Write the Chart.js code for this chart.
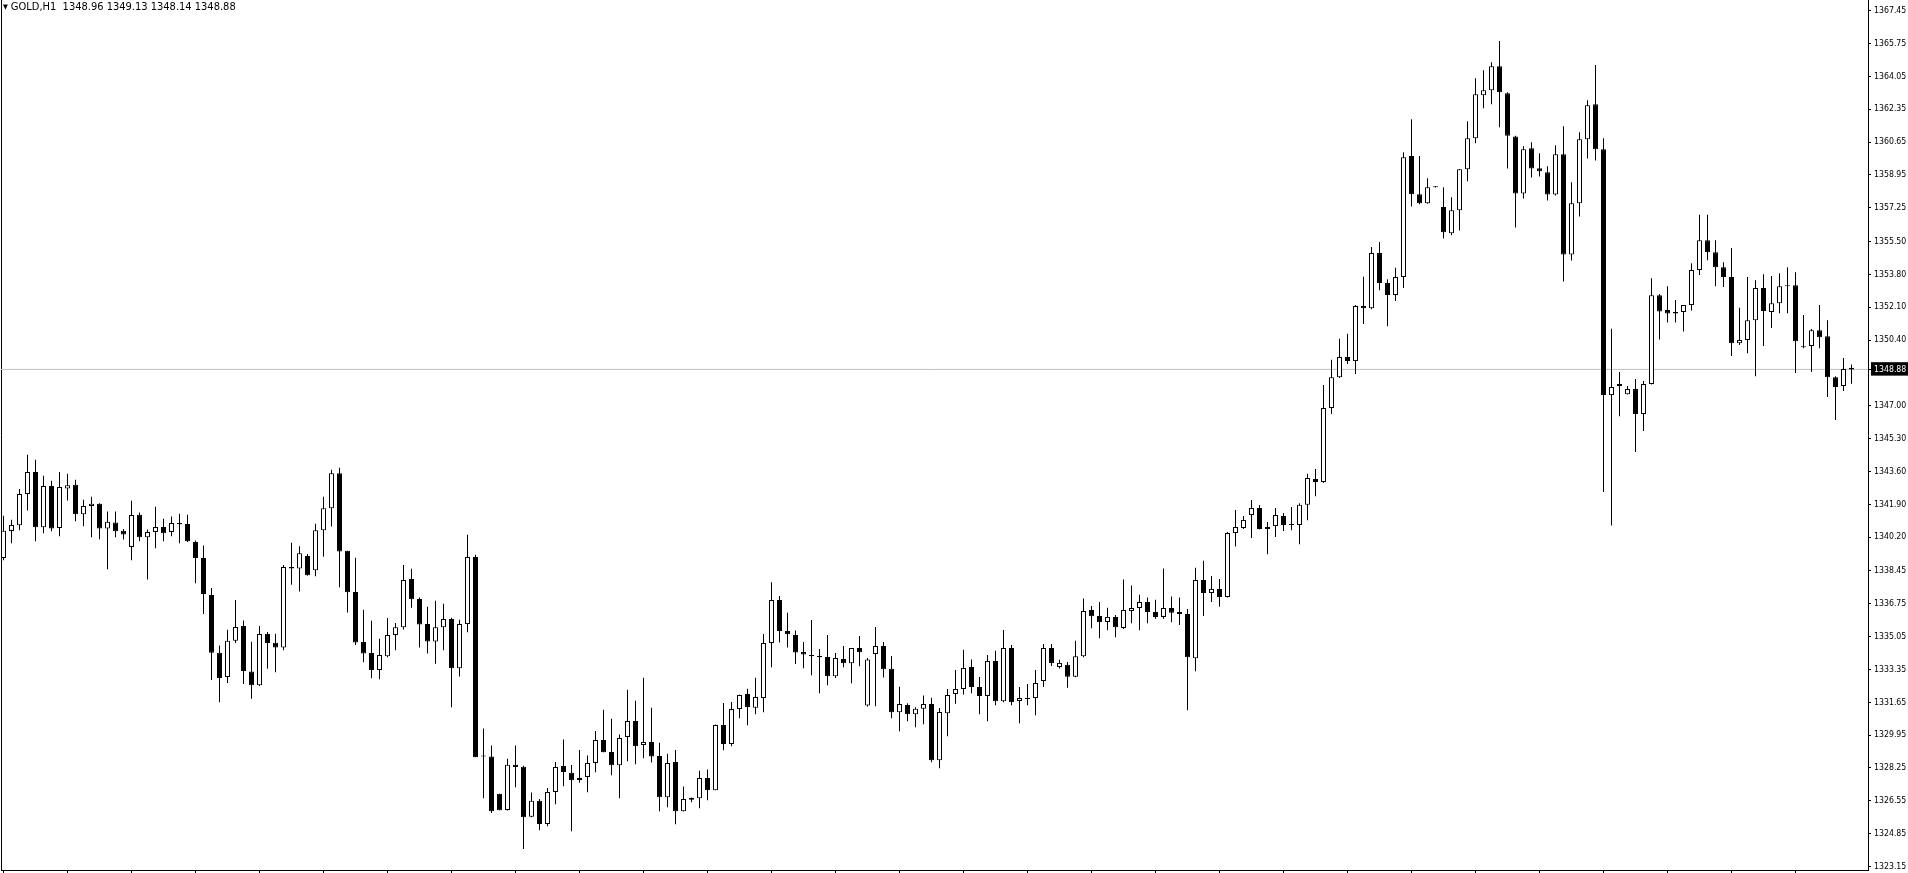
<!DOCTYPE html>
<html>
<head>
<meta charset="utf-8">
<title>GOLD,H1</title>
<script src="https://cdn.jsdelivr.net/npm/chart.js@4.4.1/dist/chart.umd.min.js"></script>
<style>
  html, body { margin: 0; padding: 0; background: #fff; overflow: hidden; }
  #wrap { position: relative; width: 1908px; height: 873px; }
  #chart { display: block; }
  #title {
    position: absolute; left: 3px; top: 0;
    font: 11px 'DejaVu Sans Condensed', 'Liberation Sans Narrow', sans-serif;
    line-height: 13px; white-space: pre; color: #000;
  }
  #title .arrow { font-size: 7px; vertical-align: 1px; margin-right: 3px; }
</style>
</head>
<body>
<div id="wrap">
  <canvas id="chart" width="1908" height="873"></canvas>
  <div id="title"></div>
</div>
<script>
const symbol = 'GOLD,H1';

// hourly bars, oldest first
const opens = [
  1339.12, 1340.52, 1340.81, 1342.43, 1343.57, 1340.71, 1342.84, 1340.67, 1342.72, 1342.91, 1341.38, 1341.81,
  1341.93, 1340.65, 1340.95, 1340.53, 1339.69, 1341.36, 1340.19, 1340.47, 1340.72, 1340.47, 1340.93, 1340.88,
  1339.95, 1339.12, 1337.21, 1334.21, 1332.96, 1334.83, 1335.60, 1333.24, 1332.53, 1335.20, 1334.73, 1334.49,
  1338.65, 1338.58, 1339.22, 1338.49, 1340.56, 1341.70, 1343.51, 1339.49, 1337.36, 1334.77, 1334.20, 1333.32,
  1334.03, 1335.13, 1335.54, 1338.03, 1337.00, 1335.70, 1334.80, 1335.54, 1335.96, 1333.41, 1335.70, 1339.17,
  1328.85, 1328.84, 1326.92, 1326.08, 1328.42, 1328.32, 1325.72, 1326.56, 1325.35, 1327.01, 1328.35, 1328.00,
  1327.63, 1327.79, 1328.51, 1329.70, 1329.08, 1328.39, 1329.86, 1330.68, 1329.44, 1329.60, 1328.87, 1326.73,
  1328.56, 1326.01, 1326.60, 1326.68, 1327.73, 1327.10, 1330.48, 1329.49, 1331.30, 1332.08, 1331.37, 1331.87,
  1334.72, 1336.94, 1335.34, 1335.13, 1334.25, 1334.10, 1334.05, 1333.99, 1333.00, 1333.89, 1333.67, 1334.46,
  1331.48, 1334.15, 1334.56, 1333.39, 1331.13, 1331.51, 1331.03, 1331.31, 1331.56, 1328.65, 1331.08, 1332.08,
  1332.34, 1333.48, 1332.44, 1331.98, 1333.79, 1331.70, 1334.46, 1331.72, 1331.87, 1331.87, 1332.75, 1334.46,
  1333.48, 1333.59, 1332.97, 1334.03, 1336.43, 1336.12, 1335.81, 1336.07, 1335.50, 1336.38, 1336.53, 1336.84,
  1336.33, 1336.07, 1336.53, 1336.33, 1336.22, 1333.93, 1337.98, 1337.31, 1337.52, 1337.10, 1340.41, 1340.67,
  1341.34, 1341.71, 1340.62, 1340.77, 1341.29, 1340.83, 1340.83, 1341.88, 1343.21, 1343.05, 1346.88, 1348.48,
  1349.52, 1349.31, 1352.16, 1352.05, 1354.90, 1353.35, 1352.73, 1353.66, 1359.92, 1357.95, 1357.48, 1358.36,
  1357.28, 1355.93, 1357.12, 1359.24, 1360.85, 1363.07, 1363.33, 1364.57, 1363.17, 1360.93, 1357.98, 1360.33,
  1359.29, 1359.09, 1357.93, 1360.02, 1354.83, 1357.48, 1360.79, 1362.60, 1360.28, 1347.55, 1348.02, 1347.60,
  1347.86, 1346.57, 1348.12, 1352.72, 1351.95, 1351.85, 1351.85, 1352.21, 1354.02, 1355.57, 1354.95, 1354.17,
  1353.66, 1350.24, 1350.40, 1351.43, 1353.09, 1351.85, 1352.31, 1353.24, 1353.24, 1350.05, 1350.09, 1350.91,
  1350.60, 1348.48, 1348.02, 1348.96
];
const highs = [
  1341.30, 1341.10, 1342.69, 1344.46, 1344.21, 1343.38, 1343.12, 1343.57, 1343.48, 1343.17, 1342.14, 1342.29,
  1341.95, 1341.52, 1341.52, 1340.62, 1342.08, 1341.48, 1340.59, 1341.77, 1341.15, 1341.27, 1341.41, 1341.36,
  1340.02, 1339.76, 1337.57, 1334.59, 1335.40, 1336.95, 1335.88, 1334.79, 1335.60, 1335.29, 1335.20, 1338.75,
  1339.91, 1339.73, 1339.32, 1340.89, 1342.29, 1343.68, 1343.79, 1339.50, 1339.13, 1336.44, 1335.87, 1334.94,
  1336.01, 1335.75, 1338.75, 1338.56, 1337.08, 1336.60, 1336.91, 1336.75, 1336.03, 1335.92, 1340.32, 1339.29,
  1330.30, 1329.41, 1326.92, 1328.73, 1329.41, 1328.37, 1326.98, 1326.65, 1327.22, 1328.56, 1329.72, 1328.41,
  1329.18, 1328.89, 1330.16, 1331.27, 1330.80, 1329.98, 1332.30, 1331.73, 1332.92, 1331.37, 1329.56, 1328.99,
  1329.18, 1327.29, 1326.72, 1328.11, 1328.17, 1330.50, 1331.61, 1331.67, 1332.05, 1332.35, 1332.92, 1335.18,
  1337.87, 1337.15, 1336.29, 1335.37, 1334.77, 1335.91, 1334.41, 1335.13, 1334.20, 1334.56, 1334.46, 1335.08,
  1333.94, 1335.55, 1334.77, 1334.05, 1332.46, 1331.60, 1331.39, 1332.00, 1331.89, 1331.36, 1332.34, 1333.32,
  1334.37, 1333.86, 1332.96, 1334.10, 1334.32, 1335.39, 1334.62, 1332.44, 1332.60, 1333.32, 1334.67, 1334.67,
  1333.85, 1333.74, 1334.84, 1337.02, 1336.64, 1336.84, 1336.55, 1336.17, 1338.00, 1337.69, 1337.22, 1337.07,
  1336.96, 1338.57, 1337.12, 1337.07, 1336.48, 1338.62, 1338.98, 1338.19, 1338.03, 1340.46, 1341.60, 1341.29,
  1342.12, 1341.86, 1340.98, 1341.71, 1341.45, 1341.76, 1341.95, 1343.48, 1343.72, 1348.07, 1349.38, 1350.47,
  1350.73, 1352.21, 1353.67, 1355.21, 1355.47, 1353.55, 1354.14, 1360.12, 1361.83, 1359.92, 1358.78, 1358.37,
  1358.31, 1357.79, 1359.25, 1361.73, 1363.95, 1364.36, 1364.78, 1365.88, 1363.23, 1360.98, 1360.43, 1360.64,
  1360.07, 1359.40, 1360.48, 1361.47, 1358.57, 1361.16, 1362.81, 1364.64, 1360.85, 1350.98, 1348.74, 1348.02,
  1348.38, 1348.28, 1353.60, 1352.78, 1353.19, 1352.47, 1352.22, 1354.38, 1356.88, 1356.88, 1355.57, 1354.43,
  1355.16, 1352.07, 1353.66, 1353.50, 1353.81, 1353.71, 1353.86, 1354.17, 1353.91, 1351.69, 1350.97, 1352.21,
  1351.43, 1348.53, 1349.47, 1349.13
];
const lows = [
  1339.00, 1339.88, 1340.55, 1341.58, 1339.98, 1340.40, 1340.50, 1340.24, 1342.10, 1341.02, 1340.76, 1340.19,
  1340.09, 1338.53, 1340.19, 1340.07, 1339.00, 1339.98, 1338.00, 1339.62, 1339.98, 1340.24, 1339.88, 1339.95,
  1337.81, 1336.22, 1332.81, 1331.65, 1332.65, 1334.72, 1332.60, 1331.83, 1332.50, 1333.39, 1333.20, 1334.34,
  1337.73, 1337.39, 1338.20, 1338.17, 1339.18, 1340.75, 1337.60, 1336.30, 1334.61, 1333.72, 1332.89, 1332.84,
  1333.98, 1334.34, 1335.42, 1336.55, 1334.48, 1334.17, 1333.65, 1334.34, 1331.39, 1332.99, 1335.27, 1328.80,
  1326.68, 1325.92, 1326.06, 1326.05, 1327.25, 1324.06, 1325.70, 1325.03, 1325.23, 1326.37, 1327.30, 1324.98,
  1327.48, 1326.99, 1328.03, 1329.06, 1327.87, 1326.68, 1328.60, 1328.44, 1328.75, 1328.54, 1326.01, 1326.22,
  1325.34, 1326.00, 1326.48, 1326.17, 1326.58, 1327.10, 1329.17, 1329.37, 1330.82, 1330.46, 1331.03, 1331.13,
  1333.46, 1334.75, 1334.49, 1333.63, 1333.41, 1333.05, 1332.12, 1332.53, 1332.91, 1333.46, 1332.63, 1333.51,
  1331.43, 1331.44, 1332.94, 1330.82, 1330.15, 1330.67, 1330.36, 1330.51, 1328.55, 1328.24, 1329.89, 1331.58,
  1332.06, 1332.12, 1331.03, 1330.67, 1331.50, 1331.65, 1331.50, 1330.56, 1331.50, 1330.98, 1332.44, 1333.53,
  1333.40, 1332.40, 1332.95, 1333.98, 1335.48, 1334.96, 1335.38, 1335.02, 1335.45, 1335.74, 1335.38, 1335.74,
  1335.97, 1335.97, 1335.79, 1335.65, 1331.24, 1333.26, 1336.12, 1336.84, 1336.59, 1337.08, 1339.72, 1340.62,
  1340.15, 1340.60, 1339.31, 1340.21, 1340.52, 1340.55, 1339.83, 1341.07, 1342.31, 1343.00, 1346.57, 1348.43,
  1349.16, 1348.64, 1351.23, 1352.00, 1352.98, 1351.12, 1352.42, 1353.09, 1357.31, 1357.43, 1357.45, 1358.30,
  1355.66, 1355.83, 1356.07, 1358.62, 1360.59, 1362.40, 1362.61, 1361.42, 1359.28, 1356.23, 1357.73, 1358.81,
  1358.86, 1357.62, 1357.88, 1353.43, 1354.52, 1356.79, 1359.79, 1359.69, 1342.54, 1340.80, 1346.45, 1347.58,
  1344.60, 1345.69, 1348.10, 1350.43, 1351.31, 1351.31, 1350.84, 1351.93, 1353.76, 1354.53, 1353.19, 1353.14,
  1349.57, 1350.14, 1349.72, 1348.53, 1350.09, 1351.02, 1351.79, 1351.79, 1348.69, 1349.98, 1348.74, 1349.98,
  1347.45, 1346.26, 1347.76, 1348.14
];
const closes = [
  1340.53, 1340.83, 1342.43, 1343.57, 1340.71, 1342.84, 1340.64, 1342.79, 1342.89, 1341.38, 1341.81, 1341.93,
  1340.65, 1341.00, 1340.50, 1340.34, 1341.34, 1340.19, 1340.47, 1340.72, 1340.40, 1340.93, 1340.86, 1339.98,
  1339.12, 1337.26, 1334.21, 1332.91, 1334.83, 1335.55, 1333.27, 1332.53, 1335.19, 1334.72, 1334.49, 1338.65,
  1338.58, 1339.37, 1338.22, 1340.56, 1341.70, 1343.51, 1339.46, 1337.34, 1334.75, 1334.18, 1333.32, 1334.10,
  1335.13, 1335.54, 1337.98, 1336.98, 1335.68, 1334.80, 1335.54, 1335.96, 1333.41, 1335.70, 1339.17, 1328.80,
  1328.90, 1326.01, 1326.06, 1328.42, 1328.30, 1325.70, 1326.56, 1325.35, 1327.01, 1328.30, 1328.04, 1327.61,
  1327.73, 1328.51, 1329.70, 1329.06, 1328.39, 1329.80, 1330.68, 1329.37, 1329.60, 1328.85, 1326.73, 1328.51,
  1326.01, 1326.65, 1326.70, 1327.73, 1327.10, 1330.48, 1329.49, 1331.30, 1332.03, 1331.41, 1331.92, 1334.72,
  1336.94, 1335.34, 1335.17, 1334.23, 1334.13, 1334.03, 1333.98, 1333.00, 1333.94, 1333.67, 1334.46, 1334.24,
  1333.86, 1334.56, 1333.36, 1331.13, 1331.56, 1331.03, 1331.31, 1331.56, 1328.65, 1331.15, 1332.03, 1332.34,
  1333.43, 1332.44, 1331.98, 1333.79, 1331.70, 1334.46, 1331.65, 1331.87, 1331.82, 1332.65, 1334.46, 1333.69,
  1333.69, 1332.97, 1334.03, 1336.38, 1336.10, 1335.79, 1336.07, 1335.53, 1336.43, 1336.53, 1336.84, 1336.33,
  1336.07, 1336.53, 1336.28, 1336.22, 1333.98, 1337.98, 1337.31, 1337.52, 1337.10, 1340.41, 1340.72, 1341.09,
  1341.71, 1340.62, 1340.72, 1341.34, 1340.83, 1340.85, 1341.88, 1343.26, 1343.05, 1346.88, 1348.48, 1349.52,
  1349.31, 1352.16, 1352.05, 1354.90, 1353.35, 1352.73, 1353.66, 1359.86, 1357.95, 1357.48, 1358.31, 1358.31,
  1355.98, 1357.12, 1359.24, 1360.85, 1363.12, 1363.33, 1364.57, 1363.23, 1360.98, 1357.98, 1360.28, 1359.28,
  1359.14, 1357.93, 1360.02, 1354.83, 1357.48, 1360.79, 1362.55, 1360.28, 1347.55, 1347.97, 1348.12, 1347.86,
  1346.57, 1348.12, 1352.72, 1351.88, 1351.78, 1351.78, 1352.21, 1354.02, 1355.57, 1354.95, 1354.17, 1353.66,
  1350.24, 1350.40, 1351.43, 1353.09, 1351.90, 1352.31, 1353.19, 1353.19, 1350.34, 1350.03, 1350.91, 1350.55,
  1348.48, 1347.97, 1348.90, 1348.88
];

// price scale labels as printed on the right axis
const priceTicks = [
  1367.45, 1365.75, 1364.05, 1362.35, 1360.65, 1358.95, 1357.25, 1355.50, 1353.80, 1352.10, 1350.40,
  1347.00, 1345.30, 1343.60, 1341.90, 1340.20, 1338.45, 1336.75, 1335.05, 1333.35, 1331.65, 1329.95,
  1328.25, 1326.55, 1324.85, 1323.15
];
const timeTickEvery = 8; // one time mark every 8 bars

const bars = opens.map((_, i) => i);
const last = bars.length - 1;
const lastClose = closes[last];

// visible window of the chart
const X_MIN = -0.3125, X_MAX = 233.0625;
const Y_MIN = 1322.97, Y_MAX = 1368.0;
const FONT = { family: "'DejaVu Sans Condensed', 'Liberation Sans Narrow', sans-serif", size: 8.7 };

document.getElementById('title').innerHTML =
  '<span class="arrow">\u25BC</span>' + symbol + '  ' +
  [opens[last], highs[last], lows[last], closes[last]].map(v => v.toFixed(2)).join(' ');

new Chart(document.getElementById('chart'), {
  type: 'bar',
  data: {
    datasets: [
      {
        type: 'line',
        label: 'bid',
        data: [{ x: X_MIN, y: lastClose }, { x: X_MAX, y: lastClose }],
        borderColor: '#c0c0c0',
        borderWidth: 1,
        pointRadius: 0,
        order: 3
      },
      {
        label: 'wick',
        data: bars.map(i => ({ x: i, y: [lows[i], highs[i]] })),
        backgroundColor: '#000',
        borderWidth: 0,
        barThickness: 1,
        grouped: false,
        inflateAmount: 0,
        order: 2
      },
      {
        label: 'body',
        data: bars.map(i => ({ x: i, y: [Math.min(opens[i], closes[i]), Math.max(opens[i], closes[i])] })),
        backgroundColor: bars.map(i => closes[i] > opens[i] ? '#fff' : '#000'),
        borderColor: '#000',
        borderWidth: 1,
        borderSkipped: false,
        barThickness: 5,
        minBarLength: 1,
        grouped: false,
        inflateAmount: 0,
        order: 1
      }
    ]
  },
  options: {
    responsive: false,
    animation: false,
    devicePixelRatio: 1,
    layout: { padding: 0 },
    plugins: {
      legend: { display: false },
      tooltip: { enabled: false }
    },
    scales: {
      x: {
        type: 'linear',
        min: X_MIN,
        max: X_MAX,
        bounds: 'data',
        offset: false,
        grid: { drawOnChartArea: false, drawTicks: true, tickLength: 3, color: '#000', offset: false },
        border: { display: true, color: '#000', width: 1 },
        ticks: { display: false },
        afterBuildTicks: s => {
          s.ticks = bars.filter(i => i % timeTickEvery === 0).map(v => ({ value: v }));
        },
        afterFit: s => { s.height = 3; s.paddingLeft = 0; s.paddingRight = 0; }
      },
      y: {
        type: 'linear',
        position: 'right',
        min: Y_MIN,
        max: Y_MAX,
        bounds: 'data',
        grid: { drawOnChartArea: false, drawTicks: true, tickLength: 3, color: '#000' },
        border: { display: true, color: '#000', width: 1 },
        ticks: {
          autoSkip: false,
          padding: 3,
          font: FONT,
          color: c => (c.tick && c.tick.value === lastClose) ? '#fff' : '#000',
          showLabelBackdrop: c => !!(c.tick && c.tick.value === lastClose),
          backdropColor: '#000',
          backdropPadding: { left: 3, right: 6, top: 2, bottom: 1 },
          callback: v => Number(v).toFixed(2)
        },
        afterBuildTicks: s => {
          s.ticks = priceTicks.concat([lastClose]).sort((a, b) => b - a).map(v => ({ value: v }));
        },
        afterFit: s => { s.width = 40; s.paddingTop = 0; s.paddingBottom = 0; }
      },
      frame: {
        type: 'linear',
        position: 'left',
        grid: { drawOnChartArea: false, drawTicks: false },
        border: { display: true, color: '#000', width: 1 },
        ticks: { display: false },
        afterFit: s => { s.width = 1; s.paddingTop = 0; s.paddingBottom = 0; }
      }
    }
  }
});
</script>
</body>
</html>
